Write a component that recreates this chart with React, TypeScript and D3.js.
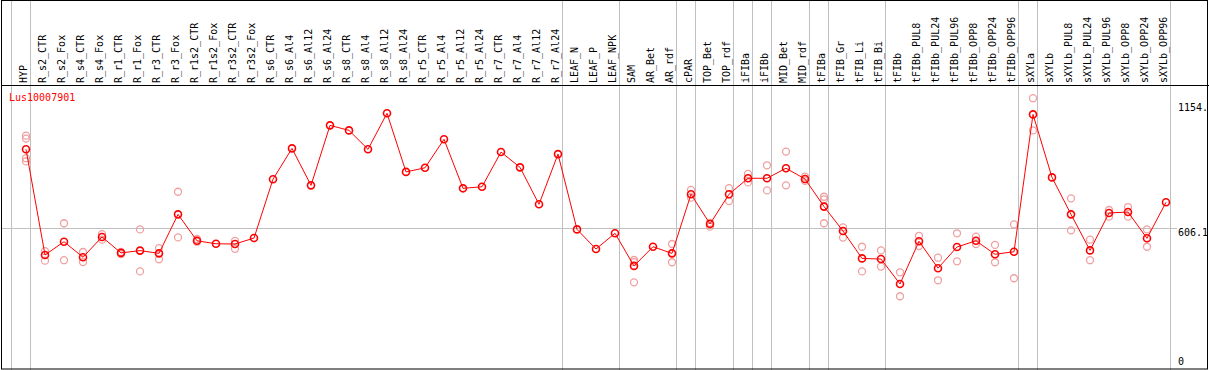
import React, { useEffect, useRef } from 'react'
import * as d3 from 'd3'

const samples = [
  'HYP', 'R_s2_CTR', 'R_s2_Fox', 'R_s4_CTR', 'R_s4_Fox', 'R_r1_CTR', 'R_r1_Fox', 'R_r3_CTR', 'R_r3_Fox',
  'R_r1s2_CTR', 'R_r1s2_Fox', 'R_r3s2_CTR', 'R_r3s2_Fox', 'R_s6_CTR', 'R_s6_Al4', 'R_s6_Al12', 'R_s6_Al24',
  'R_s8_CTR', 'R_s8_Al4', 'R_s8_Al12', 'R_s8_Al24', 'R_r5_CTR', 'R_r5_Al4', 'R_r5_Al12', 'R_r5_Al24',
  'R_r7_CTR', 'R_r7_Al4', 'R_r7_Al12', 'R_r7_Al24', 'LEAF_N', 'LEAF_P', 'LEAF_NPK', 'SAM', 'AR_Bet', 'AR_rdf',
  'cPAR', 'TOP_Bet', 'TOP_rdf', 'iFIBa', 'iFIBb', 'MID_Bet', 'MID_rdf', 'tFIBa', 'tFIB_Gr', 'tFIB_Li', 'tFIB_Bi',
  'tFIBb', 'tFIBb_PUL8', 'tFIBb_PUL24', 'tFIBb_PUL96', 'tFIBb_OPP8', 'tFIBb_OPP24', 'tFIBb_OPP96',
  'sXYLa', 'sXYLb', 'sXYLb_PUL8', 'sXYLb_PUL24', 'sXYLb_PUL96', 'sXYLb_OPP8', 'sXYLb_OPP24', 'sXYLb_OPP96',
]

// mean expression per sample
const means = [
  951, 488, 546, 478, 567, 497, 507, 495, 666,
  550, 537, 536, 562, 820, 955, 793, 1056,
  1034, 951, 1109, 852, 870, 995, 780, 787,
  939, 872, 710, 930, 600, 514, 583, 440, 524, 495,
  754, 624, 754, 824, 824, 868, 821, 700, 593, 473, 470,
  361, 548, 430, 523, 550, 491, 502,
  1104, 828, 666, 508, 672, 676, 561, 719,
]

// individual replicates
const replicates = [
  [1011, 998, 912, 898], [505, 463], [627, 465], [501, 457], [579, 555], [501, 492], [600, 416], [518, 469], [765, 565],
  [558, 546], [], [550, 515], [], [], [], [], [],
  [], [], [], [], [], [], [], [],
  [], [], [], [], [], [], [], [466, 457, 368], [], [536, 456],
  [773, 739], [629, 612], [781, 724], [843, 806], [881, 771], [941, 793], [831, 813], [743, 732, 627], [609, 564], [524, 416], [508, 437],
  [412, 307], [572, 527], [476, 377], [583, 460], [568, 536], [532, 456], [622, 386],
  [1175, 1034], [], [736, 596], [555, 465], [685, 656], [698, 656], [600, 524], [],
]

// group separators (index of first column after a line)
const separators = [0, 1, 29, 32, 35, 36, 38, 39, 40, 42, 43, 46, 53, 54, 61]

const yTicks = [0, 606.1, 1154]
const yTickLabels = ['0', '606.1', '1154.']
const geneName = 'Lus10007901'

export default function App() {
  const ref = useRef<SVGSVGElement>(null)

  useEffect(() => {
    const width = 1209
    const height = 370
    const headerBottom = 85
    const plotRight = 1170.7

    const svg = d3.select(ref.current)
    svg.selectAll('*').remove()

    const x = d3.scaleLinear().domain([0, samples.length]).range([11.7, 11.7 + 19 * samples.length])
    const px = (i: number) => x(i) + 14.3
    const y = d3.scaleLinear().domain([0, 1154]).range([366.3, 103])

    const font = '"DejaVu Sans Mono", monospace'

    // vertical separators
    svg.append('g')
      .selectAll('line')
      .data(separators)
      .enter()
      .append('line')
      .attr('x1', d => Math.round(x(d)) - 0.5)
      .attr('x2', d => Math.round(x(d)) - 0.5)
      .attr('y1', 0)
      .attr('y2', height)
      .attr('stroke', '#c0c0c0')
      .attr('stroke-width', 1)

    // horizontal guide at 606.1
    svg.append('line')
      .attr('x1', 1)
      .attr('x2', 1177)
      .attr('y1', Math.round(y(606.1)) + 0.5)
      .attr('y2', Math.round(y(606.1)) + 0.5)
      .attr('stroke', '#c0c0c0')

    // frame
    svg.append('rect')
      .attr('x', 1.5)
      .attr('y', 0.5)
      .attr('width', 1206)
      .attr('height', 368.5)
      .attr('fill', 'none')
      .attr('stroke', '#000')
    svg.append('line')
      .attr('x1', 1).attr('x2', width)
      .attr('y1', headerBottom + 0.5).attr('y2', headerBottom + 0.5)
      .attr('stroke', '#000')

    // column labels
    svg.append('g')
      .selectAll('text')
      .data(samples)
      .enter()
      .append('text')
      .attr('transform', (d, i) => `translate(${px(i) + 1},83) rotate(-90)`)
      .attr('font-family', font)
      .attr('font-size', 10)
      .attr('fill', '#000')
      .text(d => d)

    // y labels
    svg.append('g')
      .selectAll('text')
      .data(yTicks)
      .enter()
      .append('text')
      .attr('x', 1178)
      .attr('y', d => Math.min(y(d) + 8, 365))
      .attr('font-family', font)
      .attr('font-size', 10)
      .attr('fill', '#000')
      .text((d, i) => yTickLabels[i])

    svg.append('text')
      .attr('x', 9)
      .attr('y', 101)
      .attr('font-family', font)
      .attr('font-size', 10)
      .attr('fill', '#ff0000')
      .text(geneName)

    // replicates
    const reps = replicates.flatMap((vals, i) => vals.map(v => ({ i, v })))
    svg.append('g')
      .selectAll('circle')
      .data(reps)
      .enter()
      .append('circle')
      .attr('cx', d => px(d.i))
      .attr('cy', d => y(d.v))
      .attr('r', 3.5)
      .attr('fill', 'none')
      .attr('stroke', '#f0a0a0')
      .attr('stroke-width', 1.3)

    // mean line
    const line = d3.line<number>()
      .x((d, i) => px(i))
      .y(d => y(d))
    svg.append('path')
      .datum(means)
      .attr('d', line)
      .attr('fill', 'none')
      .attr('stroke', '#ff0000')
      .attr('stroke-width', 1)

    svg.append('g')
      .selectAll('circle')
      .data(means)
      .enter()
      .append('circle')
      .attr('cx', (d, i) => px(i))
      .attr('cy', d => y(d))
      .attr('r', 3.5)
      .attr('fill', 'none')
      .attr('stroke', '#ff0000')
      .attr('stroke-width', 1.6)
  }, [])

  return (
    <svg
      ref={ref}
      width={1209}
      height={370}
      style={{ position: 'absolute', left: 0, top: 0, display: 'block', background: '#fff' }}
    />
  )
}
